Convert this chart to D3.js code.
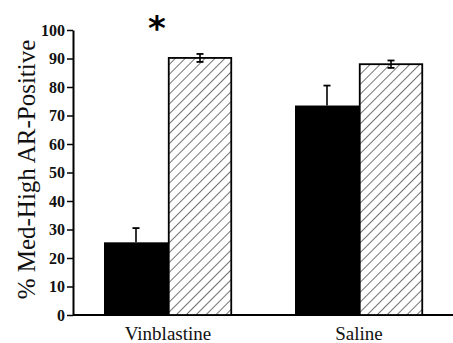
<!DOCTYPE html>
<html>
<head>
<style>
  body { margin: 0; background: #fff; }
  text { font-family: "Liberation Serif", "DejaVu Serif", serif; }
</style>
</head>
<body>
<svg width="453" height="343"></svg>
<script src="https://d3js.org/d3.v7.min.js"></script>
<script>
  var groups = ["Vinblastine", "Saline"];
  var series = ["solid", "hatched"];
  var values = {
    solid:   [25.5, 73.5],
    hatched: [90.2, 88.0]
  };
  var errors = {
    solid:   [5.0, 7.0],
    hatched: [1.4, 1.3]
  };
  var yTicks = [0, 10, 20, 30, 40, 50, 60, 70, 80, 90, 100];

  var svg = d3.select("svg"),
      margin = {top: 30, right: 0, bottom: 28, left: 73},
      width = +svg.attr("width") - margin.left - margin.right,
      height = +svg.attr("height") - margin.top - margin.bottom,
      g = svg.append("g").attr("transform", "translate(" + margin.left + "," + margin.top + ")");

  // diagonal hatch
  var pat = svg.append("defs").append("pattern")
      .attr("id", "hatch")
      .attr("patternUnits", "userSpaceOnUse")
      .attr("width", 7)
      .attr("height", 7)
      .attr("patternTransform", "rotate(45)");
  pat.append("rect").attr("width", 7).attr("height", 7).attr("fill", "#fff");
  pat.append("line")
      .attr("x1", 0).attr("y1", 0).attr("x2", 0).attr("y2", 7)
      .attr("stroke", "#000").attr("stroke-width", 1.1);

  var x0 = d3.scaleBand().domain(groups).range([31, 413]);
  var x1 = d3.scaleBand().domain(series).range([0, 128]);
  var y = d3.scaleLinear().domain([0, 100]).range([height, 0]);

  // y axis
  var yAxis = g.append("g")
      .call(d3.axisLeft(y).tickValues(yTicks).tickSize(6).tickPadding(2).tickSizeOuter(0));
  yAxis.attr("font-family", null);
  yAxis.select(".domain").attr("stroke-width", 2);
  yAxis.selectAll(".tick line").attr("stroke-width", 1.5);
  yAxis.selectAll(".tick text")
      .attr("font-size", 16)
      .attr("font-weight", "bold")
      .attr("fill", "#111");

  // x axis line
  g.append("line")
      .attr("x1", 0).attr("x2", width)
      .attr("y1", y(0)).attr("y2", y(0))
      .attr("stroke", "#000").attr("stroke-width", 2);

  var groupG = g.selectAll(".grp")
      .data(groups)
      .enter().append("g")
      .attr("transform", function(d) { return "translate(" + x0(d) + ",0)"; });

  groupG.each(function(grp, i) {
    var sel = d3.select(this);
    series.forEach(function(s) {
      var v = values[s][i];
      sel.append("rect")
          .attr("x", x1(s) + (s === "hatched" ? 0.75 : 0))
          .attr("y", y(v))
          .attr("width", x1.bandwidth() - (s === "hatched" ? 1.5 : 0))
          .attr("height", y(0) - y(v))
          .attr("fill", s === "solid" ? "#000" : "url(#hatch)")
          .attr("stroke", s === "solid" ? "none" : "#000")
          .attr("stroke-width", 1.8);
    });
    series.forEach(function(s) {
      var v = values[s][i], e = errors[s][i];
      var cx = x1(s) + x1.bandwidth() / 2;
      sel.append("line")
          .attr("x1", cx).attr("x2", cx)
          .attr("y1", y(s === "solid" ? v : v - e)).attr("y2", y(v + e))
          .attr("stroke", "#000").attr("stroke-width", 1.6);
      sel.append("line")
          .attr("x1", cx - 3.5).attr("x2", cx + 3.5)
          .attr("y1", y(v + e)).attr("y2", y(v + e))
          .attr("stroke", "#000").attr("stroke-width", 1.8);
      if (s === "hatched") {
        sel.append("line")
            .attr("x1", cx - 3.5).attr("x2", cx + 3.5)
            .attr("y1", y(v - e)).attr("y2", y(v - e))
            .attr("stroke", "#000").attr("stroke-width", 1.8);
      }
    });
  });

  // group labels
  groupG.append("text")
      .attr("x", x1.bandwidth())
      .attr("y", height + 25)
      .attr("text-anchor", "middle")
      .attr("font-size", 19)
      .attr("fill", "#111")
      .text(function(d) { return d; });

  // significance asterisk
  g.append("text")
      .attr("x", x0("Vinblastine") + x1("solid") + x1.bandwidth() - 11)
      .attr("y", y(100) + 10)
      .attr("text-anchor", "middle")
      .attr("font-size", 34)
      .attr("font-weight", "bold")
      .style("font-family", "'DejaVu Sans', sans-serif")
      .text("*");

  // y label
  svg.append("text")
      .attr("transform", "translate(35," + (margin.top + height / 2 - 3) + ") rotate(-90)")
      .attr("text-anchor", "middle")
      .attr("font-size", 25)
      .attr("fill", "#111")
      .text("% Med-High AR-Positive");
</script>
</body>
</html>
